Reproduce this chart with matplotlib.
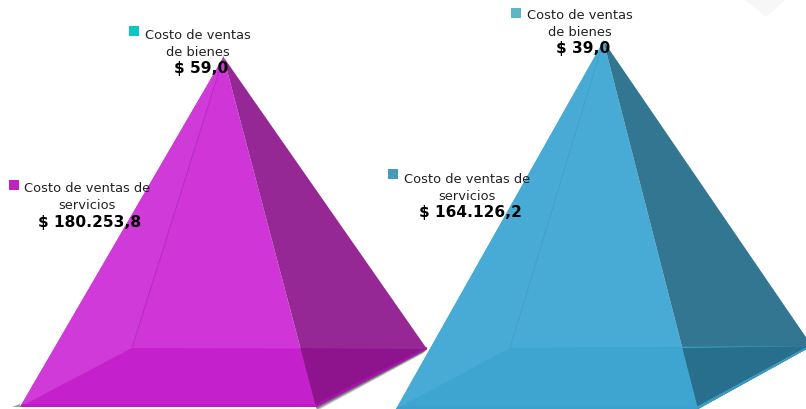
import matplotlib
matplotlib.use('Agg')
import matplotlib.pyplot as plt
from matplotlib.patches import Polygon, Rectangle

# values shown on the labels
labels_top = 'Costo de ventas\nde bienes'
labels_bottom = 'Costo de ventas de\nservicios'
values_left = [59.0, 180253.8]
values_right = [39.0, 164126.2]
text_left = ['$ 59,0', '$ 180.253,8']
text_right = ['$ 39,0', '$ 164.126,2']

W, H = 806, 409


def mix(a, b, t):
    return a[0] + (b[0] - a[0]) * t, a[1] + (b[1] - a[1]) * t


def poly(ax, pts, color, alpha=1.0, z=2):
    ax.add_patch(Polygon(pts, closed=True, facecolor=color, edgecolor='none', alpha=alpha, zorder=z))


def pyramid(ax, apex, a, b, c, d, cols, values, shadow):
    # soft shadow under the base
    if shadow:
        for off, al in [(5, 0.2), (4, 0.3), (3, 0.4), (2, 0.5)]:
            poly(ax, [b, c, (c[0] - off, c[1] + off), (b[0] + 1, b[1] + off - 1)], '#555555', al, 1)
        poly(ax, [(a[0] - 8, a[1]), (a[0], a[1] - 3), a], '#888888', 0.8, 1)
    poly(ax, [apex, a, b], cols['front'])
    poly(ax, [apex, a, d], cols['left'])
    poly(ax, [apex, b, c], cols['side'])
    # floor seen through the faces
    poly(ax, [a, b, c, d], cols['floor'])
    k = (apex[0] - b[0]) / (apex[1] - b[1])
    x_split = b[0] + (d[1] - b[1]) * k
    poly(ax, [b, c, (x_split, d[1])], cols['floor_side'])
    # lower rim
    poly(ax, [(a[0] + 2, a[1] - 3), (b[0], b[1] - 3), b, a], cols['rim'])
    poly(ax, [(b[0], b[1] - 3), (c[0], c[1] - 2), c, b], cols['rim_side'])
    # faint back edge
    ax.plot([apex[0], d[0]], [apex[1], d[1]], color=cols['edge'], lw=0.6, zorder=3)
    # small top section, its height follows the share of the value
    share = values[0] / sum(values)
    t = max(share, 0.012)
    poly(ax, [apex, mix(apex, a, t), mix(apex, b, t)], cols['tip'], 1.0, 4)


def label(ax, sq, sq_color, tx, ty, name, value, vx, vy):
    ax.add_patch(Rectangle(sq, 10, 10, facecolor=sq_color, edgecolor='none', zorder=5))
    ax.text(tx, ty, name, ha='center', va='center', fontsize=9.4, color='#222222',
            family='DejaVu Sans', linespacing=1.32, zorder=6)
    ax.text(vx, vy, value, ha='center', va='center', fontsize=11.1, color='black',
            family='DejaVu Sans', fontweight='bold', zorder=6)


def main():
    fig = plt.figure(figsize=(W / 100, H / 100), dpi=100)
    ax = fig.add_axes([0, 0, 1, 1])
    ax.set_xlim(0, W)
    ax.set_ylim(H, 0)
    ax.axis('off')

    # faint diamond in the corner
    poly(ax, [(745, 0), (785, 0), (766, 17)], '#f7f7f7', 1.0, 1)

    purple = {'left': '#d03ad8', 'front': '#cf35d7', 'side': '#962896', 'floor': '#c420cc',
              'floor_side': '#8e148e', 'rim': '#c018c8', 'rim_side': '#a812ae', 'edge': '#b828c0',
              'tip': '#c030c8'}
    blue = {'left': '#48abd5', 'front': '#47abd6', 'side': '#327692', 'floor': '#3da5cf',
            'floor_side': '#286f8d', 'rim': '#3aa2cc', 'rim_side': '#3d9cc2', 'edge': '#3f9fc8',
            'tip': '#55b5c0'}

    pyramid(ax, (223.5, 57), (20, 407), (316, 407), (427, 349), (132, 348), purple, values_left, True)
    pyramid(ax, (603.5, 41), (396, 409), (698, 409), (812, 346), (510, 348), blue, values_right, False)

    label(ax, (129, 26), '#0cc8c4', 198, 44, labels_top, text_left[0], 201, 68)
    label(ax, (9, 180), '#c222c4', 87, 197, labels_bottom, text_left[1], 90, 222)
    label(ax, (511, 8), '#5cb8c4', 580, 24, labels_top, text_right[0], 583, 48)
    label(ax, (388, 169), '#439cc0', 467, 188, labels_bottom, text_right[1], 470, 212)

    plt.savefig('out.png', dpi=100)


main()
